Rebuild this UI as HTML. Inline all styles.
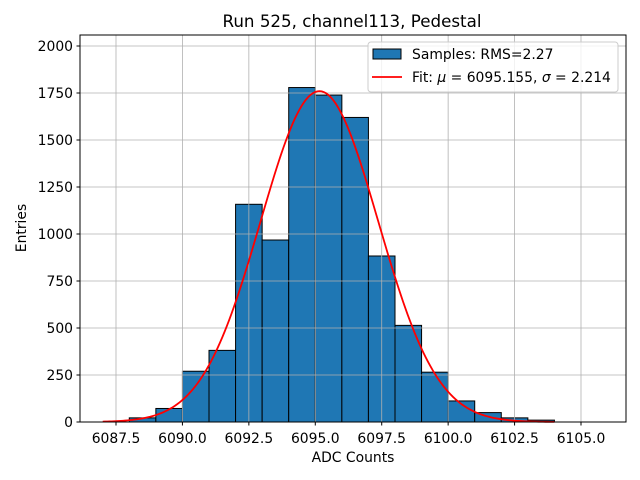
<!DOCTYPE html>
<html><head><meta charset="utf-8"><style>
body{margin:0;background:#fff}
svg{display:block;font-family:"DejaVu Sans","Liberation Sans",sans-serif}
</style></head><body>
<svg id="chart" width="640" height="480" viewBox="0 0 640 480">
<rect width="640" height="480" fill="#fff"/>
<text x="352" y="27" font-size="16.7" text-anchor="middle">Run 525, channel113, Pedestal</text>
<g id="bars"></g>
<g id="grid"></g>
<polyline id="fit" fill="none" stroke="#ff0000" stroke-width="1.8"/>
<rect x="80" y="35" width="546" height="387" fill="none" stroke="#000" stroke-width="1"/>
<g id="xticks"></g>
<g id="yticks"></g>
<text x="353" y="462" font-size="13.9" text-anchor="middle">ADC Counts</text>
<text x="26" y="228" font-size="13.9" text-anchor="middle" transform="rotate(-90 26 228)">Entries</text>
<g>
<rect x="368" y="42" width="250" height="50" rx="3" fill="#fff" fill-opacity="0.8" stroke="#ccc"/>
<rect x="373" y="49" width="28" height="10" fill="#1f77b4" stroke="#000"/>
<text x="412" y="59" font-size="13.9">Samples: RMS=2.27</text>
<line x1="372" y1="77" x2="402" y2="77" stroke="#ff0000" stroke-width="1.8"/>
<text x="412" y="82" font-size="13.9">Fit: <tspan font-style="italic">μ</tspan> = 6095.155, <tspan font-style="italic">σ</tspan> = 2.214</text>
</g>
</svg>
<script>
const binEdgesLow = [6088,6089,6090,6091,6092,6093,6094,6095,6096,6097,6098,6099,6100,6101,6102,6103];
const binCounts = [22,72,270,381,1158,968,1779,1739,1620,883,514,265,112,50,22,10];
const xTickValues = [6087.5,6090,6092.5,6095,6097.5,6100,6102.5,6105];
const xTickLabels = ["6087.5","6090.0","6092.5","6095.0","6097.5","6100.0","6102.5","6105.0"];
const yTickValues = [0,250,500,750,1000,1250,1500,1750,2000];
const fitMu = 6095.155;
const fitSigma = 2.214;
const fitAmp = 1760;
const fitRange = [6087, 6104];

const NS="http://www.w3.org/2000/svg";
function X(v){return 116+(v-6087.5)*(581-116)/17.5;}
function Y(v){return 422-v*376/2000;}
function mk(t,a,p){const e=document.createElementNS(NS,t);for(const k in a)e.setAttribute(k,a[k]);p.appendChild(e);return e;}
const bars=document.getElementById('bars');
binEdgesLow.forEach((lo,i)=>{
  const r=mk('rect',{x:X(lo),y:Y(binCounts[i]),width:X(lo+1)-X(lo),height:Y(0)-Y(binCounts[i]),fill:'#1f77b4',stroke:'#000','stroke-width':1},bars);
  
  
});
const grid=document.getElementById('grid'),xt=document.getElementById('xticks'),yt=document.getElementById('yticks');
xTickValues.forEach((v,i)=>{
  const x=X(v);
  const g=mk('line',{x1:x,x2:x,y1:35,y2:422,stroke:'#b0b0b0','stroke-width':0.8},grid);
  
  
  const t=mk('line',{x1:x,x2:x,y1:422,y2:425.5,stroke:'#000'},xt);
  
  
  const l=mk('text',{x:x,y:443,'font-size':13.9,'text-anchor':'middle'},xt);
  l.textContent=xTickLabels[i];
  
  
});
yTickValues.forEach(v=>{
  const y=Y(v);
  const g=mk('line',{x1:80,x2:626,y1:y,y2:y,stroke:'#b0b0b0','stroke-width':0.8},grid);
  
  
  const t=mk('line',{x1:76.5,x2:80,y1:y,y2:y,stroke:'#000'},yt);
  
  
  const l=mk('text',{x:73,y:y+5,'font-size':13.9,'text-anchor':'end'},yt);
  l.textContent=String(v);
  
  
});
const pts=[];
for(let k=0;k<=200;k++){const v=fitRange[0]+(fitRange[1]-fitRange[0])*k/200;
  const c=fitAmp*Math.exp(-0.5*Math.pow((v-fitMu)/fitSigma,2));
  pts.push(X(v).toFixed(2)+','+Y(c).toFixed(2));}
document.getElementById('fit').setAttribute('points',pts.join(' '));
</script>
</body></html>
